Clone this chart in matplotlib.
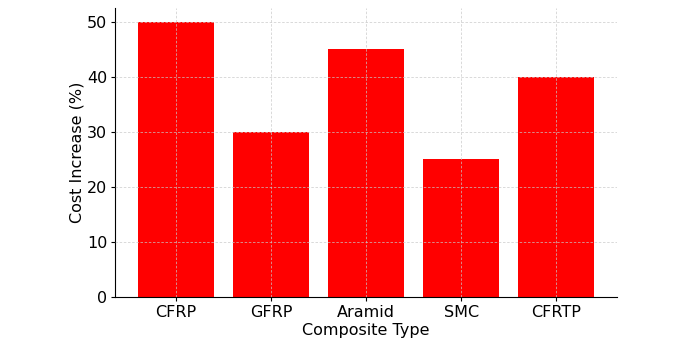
import matplotlib
matplotlib.use("Agg")
import matplotlib.pyplot as plt

categories = ["CFRP", "GFRP", "Aramid", "SMC", "CFRTP"]
cost_increase = [50, 30, 45, 25, 40]

fig = plt.figure(figsize=(6.88, 3.57), dpi=100)
ax = fig.add_axes([0.167, 0.168, 0.730, 0.810])
ax.bar(categories, cost_increase, color="red", width=0.8)
ax.set_xlabel("Composite Type", fontsize=11.5, labelpad=2.5)
ax.set_ylabel("Cost Increase (%)", fontsize=11.5, labelpad=2)
ax.tick_params(labelsize=11.5, length=3, pad=2.5)
ax.grid(True, linestyle=(0, (3, 2)), color="#c8c8c8", alpha=0.8, linewidth=0.6)
ax.set_axisbelow(False)
ax.spines["top"].set_visible(False)
ax.spines["right"].set_visible(False)
fig.savefig("out.png", dpi=100)
